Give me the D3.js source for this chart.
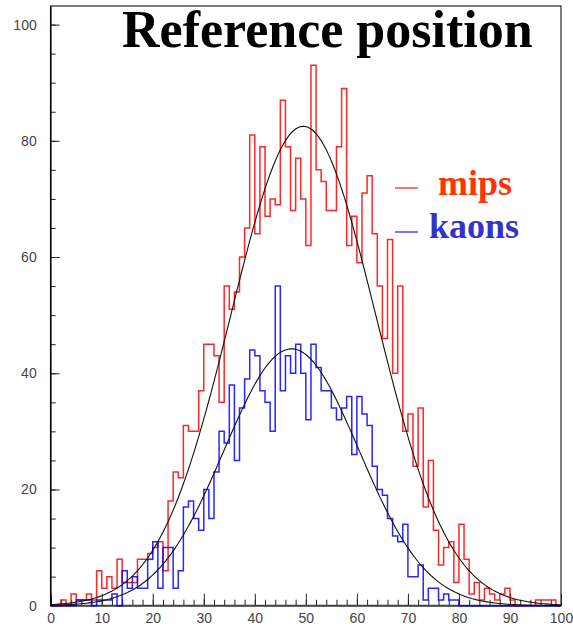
<!DOCTYPE html>
<html>
<head>
	<meta http-equiv="Content-Type" content="text/html; charset=utf-8"/>
	<title>Reference position</title>
	<style>
		body { margin: 0; background: #fff; }
		svg { display: block; }
		.tick text { font-family: "Liberation Sans", Arial, sans-serif; font-size: 14px; fill: #444; }
		.tick line { stroke: #222; }
	</style>
</head>
<body>
	<svg width="573" height="629" id="viz"></svg>

	<script src="https://d3js.org/d3.v7.min.js"></script>
	<script>

		//Datos: contenido de cada bin (ancho 1, de 0 a 100)
		var mips = [0,0,1,0,2,1,1,2,1,6,
			3,5,3,8,4,4,4,8,8,9,
			10,11,6,18,23,22,31,30,30,37,
			45,45,43,35,55,51,54,60,65,81,
			64,79,67,70,69,87,79,68,77,70,
			62,93,75,73,68,68,79,89,62,67,
			59,71,74,64,55,46,63,40,55,30,
			33,24,34,17,25,13,7,10,11,4,
			14,8,2,4,1,3,2,1,2,3,
			1,0,0,0,0,1,1,1,1,0];

		var kaons = [0,0,0,0,0,1,1,1,0,1,
			1,1,2,0,6,3,5,3,3,8,
			11,3,10,10,3,6,17,18,15,13,
			20,15,23,30,28,38,25,34,39,44,
			43,37,35,30,55,37,43,40,45,40,
			32,45,41,37,37,34,32,34,36,26,
			36,33,31,24,20,19,15,12,11,14,
			5,5,7,1,3,3,1,2,1,1,
			0,0,0,0,0,0,0,0,0,0,
			0,0,0,0,0,0,0,0,0,0];

		//Ajustes gaussianos: [constante, media, sigma]
		var fit_mips = [82.5, 49.5, 14.2];
		var fit_kaons = [44.2, 47.2, 13.2];

		var xticks = [0,10,20,30,40,50,60,70,80,90,100];
		var yticks = [0,20,40,60,80,100];
		var legend = [{label: "mips", color: "#ff3300", line: "#ff2a1a"},
		              {label: "kaons", color: "#3333cc", line: "#2b2bff"}];

		//Escalas
		const x = d3.scaleLinear().domain([0, 100]).range([50.7, 561]);
		const y = d3.scaleLinear().domain([0, 103.2]).range([605.7, 6]);

		var svg = d3.select("#viz");

		//Marco
		svg.append("rect")
			.attr("x", x(0)).attr("y", y(103.2))
			.attr("width", x(100) - x(0)).attr("height", y(0) - y(103.2))
			.attr("fill", "none").attr("stroke", "#000").attr("stroke-width", 1);

		//Eje y: menores cada 5, mayores cada 20
		svg.append("g")
			.attr("transform", `translate(${x(0)},0)`)
			.call(d3.axisLeft(y).tickValues(d3.range(0, 101, 5)).tickSizeInner(-5).tickSizeOuter(0).tickFormat(""))
			.call(g => g.select(".domain").remove());
		svg.append("g")
			.attr("transform", `translate(${x(0)},0)`)
			.call(d3.axisLeft(y).tickValues(yticks).tickSizeInner(-9).tickSizeOuter(0).tickPadding(14))
			.call(g => g.select(".domain").remove());

		//Eje x: menores cada 2, mayores cada 10
		svg.append("g")
			.attr("transform", `translate(0,${y(0)})`)
			.call(d3.axisBottom(x).tickValues(d3.range(0, 101, 2)).tickSizeInner(-6).tickSizeOuter(0).tickFormat(""))
			.call(g => g.select(".domain").remove());
		svg.append("g")
			.attr("transform", `translate(0,${y(0)})`)
			.call(d3.axisBottom(x).tickValues(xticks).tickSizeInner(-12).tickSizeOuter(0).tickPadding(7))
			.call(g => g.select(".domain").remove());

		svg.append("line")
			.attr("x1", x(0)).attr("x2", x(100)).attr("y1", y(0)).attr("y2", y(0))
			.attr("stroke", "#444").attr("stroke-width", 2);
		svg.append("line")
			.attr("x1", x(0)).attr("x2", x(0)).attr("y1", y(0)).attr("y2", y(103.2))
			.attr("stroke", "#000").attr("stroke-width", 1.5);

		//Histogramas (escalones)
		const step = d3.line().x(d => x(d[0])).y(d => y(d[1])).curve(d3.curveStepAfter);

		function dibujar_hist(data, color){
			var pts = data.map((v, i) => [i, v]);
			pts.push([data.length, data[data.length - 1]]);
			svg.append("path")
				.attr("d", step(pts))
				.attr("fill", "none")
				.attr("stroke", color)
				.attr("stroke-width", 1.5)
				.attr("stroke-opacity", 0.85);
		}
		dibujar_hist(mips, "#ff0000");
		dibujar_hist(kaons, "#0000ff");

		//Curvas de ajuste
		const curva = d3.line().x(d => x(d[0])).y(d => y(d[1]));
		function dibujar_fit(p){
			var pts = d3.range(0, 100.01, 0.5).map(t => [t, p[0] * Math.exp(-0.5 * Math.pow((t - p[1]) / p[2], 2))]);
			svg.append("path")
				.attr("d", curva(pts))
				.attr("fill", "none")
				.attr("stroke", "#111")
				.attr("stroke-width", 1.1);
		}
		dibujar_fit(fit_mips);
		dibujar_fit(fit_kaons);

		//Titulo
		svg.append("text")
			.attr("x", 122).attr("y", 47)
			.style("font-family", "'Liberation Serif', 'Times New Roman', serif")
			.style("font-weight", "bold")
			.style("font-size", "52px")
			.attr("fill", "#000")
			.text("Reference position");

		//Leyenda
		var lg = svg.selectAll("g.leg").data(legend).enter().append("g").attr("class", "leg");
		lg.append("line")
			.attr("x1", 395).attr("x2", 418)
			.attr("y1", (d, i) => 188 + i * 44).attr("y2", (d, i) => 188 + i * 44)
			.attr("stroke", d => d.line).attr("stroke-width", 1.3);
		lg.append("text")
			.attr("x", (d, i) => i == 0 ? 438 : 429)
			.attr("y", (d, i) => 195 + i * 43)
			.style("font-family", "'Liberation Serif', 'Times New Roman', serif")
			.style("font-weight", "bold")
			.style("font-size", "36px")
			.attr("fill", d => d.color)
			.text(d => d.label);

	</script>
</body>
</html>
